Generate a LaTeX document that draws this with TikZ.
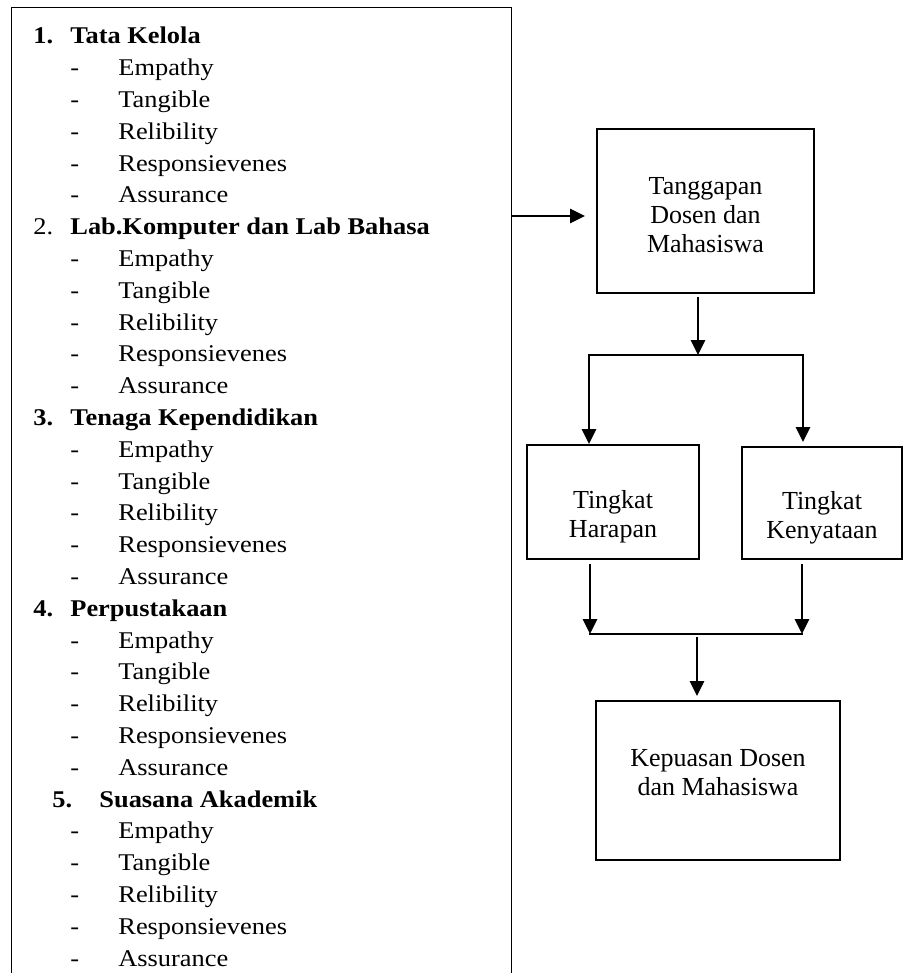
\documentclass[tikz,border=0pt]{standalone}
\usepackage{fontspec}
\setmainfont{Liberation Serif}
\newfontfamily\listfont[FakeStretch=1.1]{Liberation Serif}
\usetikzlibrary{positioning}
\usetikzlibrary{shapes,arrows.meta}
\tikzstyle{frame} = [draw, line width=0.8pt]
\tikzstyle{listnode} = [anchor=base west, inner sep=0pt, font=\listfont\fontsize{12}{15.9}\selectfont]
\tikzstyle{block} = [rectangle, draw, line width=0.9pt, inner sep=0pt]
\tikzstyle{blocktext} = [align=center, inner sep=0pt, font=\fontsize{13}{14.5}\selectfont]
\tikzstyle{high} = [draw, line width=1.4pt, -{Triangle[width=7pt,length=7.5pt]}]
\tikzstyle{link} = [draw, line width=1.4pt, line cap=rect]

\begin{document}
\begin{tikzpicture}[x=0.5pt, y=-0.5pt]
	\useasboundingbox (0,0) rectangle (904,973);
	% list of factors
	\node [draw=none, minimum width=249.5pt, minimum height=482.5pt, inner sep=0pt] (factors) at (261.5,490.5) {};
	\path [frame] (factors.south west) -- (factors.north west) -- (factors.north east) -- (factors.south east);
	\node [listnode] (list) at (33,44) {\begin{tabular}[t]{@{}p{18.5pt}@{}p{24pt}@{}l@{}}
		\textbf{1.} & \multicolumn{2}{@{}l@{}}{\textbf{Tata Kelola}}\\
		 & - & Empathy\\
		 & - & Tangible\\
		 & - & Relibility\\
		 & - & Responsievenes\\
		 & - & Assurance\\
		2. & \multicolumn{2}{@{}l@{}}{\textbf{Lab.Komputer dan Lab Bahasa}}\\
		 & - & Empathy\\
		 & - & Tangible\\
		 & - & Relibility\\
		 & - & Responsievenes\\
		 & - & Assurance\\
		\textbf{3.} & \multicolumn{2}{@{}l@{}}{\textbf{Tenaga Kependidikan}}\\
		 & - & Empathy\\
		 & - & Tangible\\
		 & - & Relibility\\
		 & - & Responsievenes\\
		 & - & Assurance\\
		\textbf{4.} & \multicolumn{2}{@{}l@{}}{\textbf{Perpustakaan}}\\
		 & - & Empathy\\
		 & - & Tangible\\
		 & - & Relibility\\
		 & - & Responsievenes\\
		 & - & Assurance\\
		\multicolumn{3}{@{\hspace{9.5pt}}l@{}}{\makebox[23.5pt][l]{\textbf{5.}}\textbf{Suasana Akademik}}\\
		 & - & Empathy\\
		 & - & Tangible\\
		 & - & Relibility\\
		 & - & Responsievenes\\
		 & - & Assurance
	\end{tabular}};

	% place nodes
	\node [block, minimum width=108.5pt, minimum height=82pt, label={[blocktext, yshift=-2pt]center:Tanggapan\\Dosen dan\\Mahasiswa}] (tanggap) at (705.5,211) {};
	\node [block, minimum width=86pt, minimum height=57pt, label={[blocktext, yshift=-7.5pt]center:Tingkat\\Harapan}] (harapan) at (613,502) {};
	\node [block, minimum width=80pt, minimum height=56pt, label={[blocktext, yshift=-7.5pt]center:Tingkat\\Kenyataan}] (kenyata) at (822,503) {};
	\node [block, minimum width=122pt, minimum height=79.5pt, label={[blocktext, yshift=4pt]center:Kepuasan Dosen\\dan Mahasiswa}] (kepuas) at (718,780.5) {};

	% branch points
	\coordinate (entry) at (511,216);
	\coordinate (fork)  at (698,355);
	\coordinate (forkL) at (589,355);
	\coordinate (forkR) at (803,355);
	\coordinate (join)  at (697,634);
	\coordinate (joinL) at (590,634);
	\coordinate (joinR) at (802,634);

	% draw edges
	\path [high, shorten >=5.5pt] (entry) -- (entry -| tanggap.west);
	\path [high, shorten <=1.5pt] (tanggap.south -| fork) -- (fork);
	\path [link] (forkL) -- (forkR);
	\path [high] (forkL) -- (forkL |- harapan.north);
	\path [high, shorten >=2pt] (forkR) -- (forkR |- kenyata.north);
	\path [high, shorten <=2pt] (harapan.south -| joinL) -- (joinL);
	\path [high, shorten <=2pt] (kenyata.south -| joinR) -- (joinR);
	\path [link] (joinL) -- (joinR);
	\path [high, shorten <=1.5pt, shorten >=2pt] (join) -- (join |- kepuas.north);
\end{tikzpicture}
\end{document}
